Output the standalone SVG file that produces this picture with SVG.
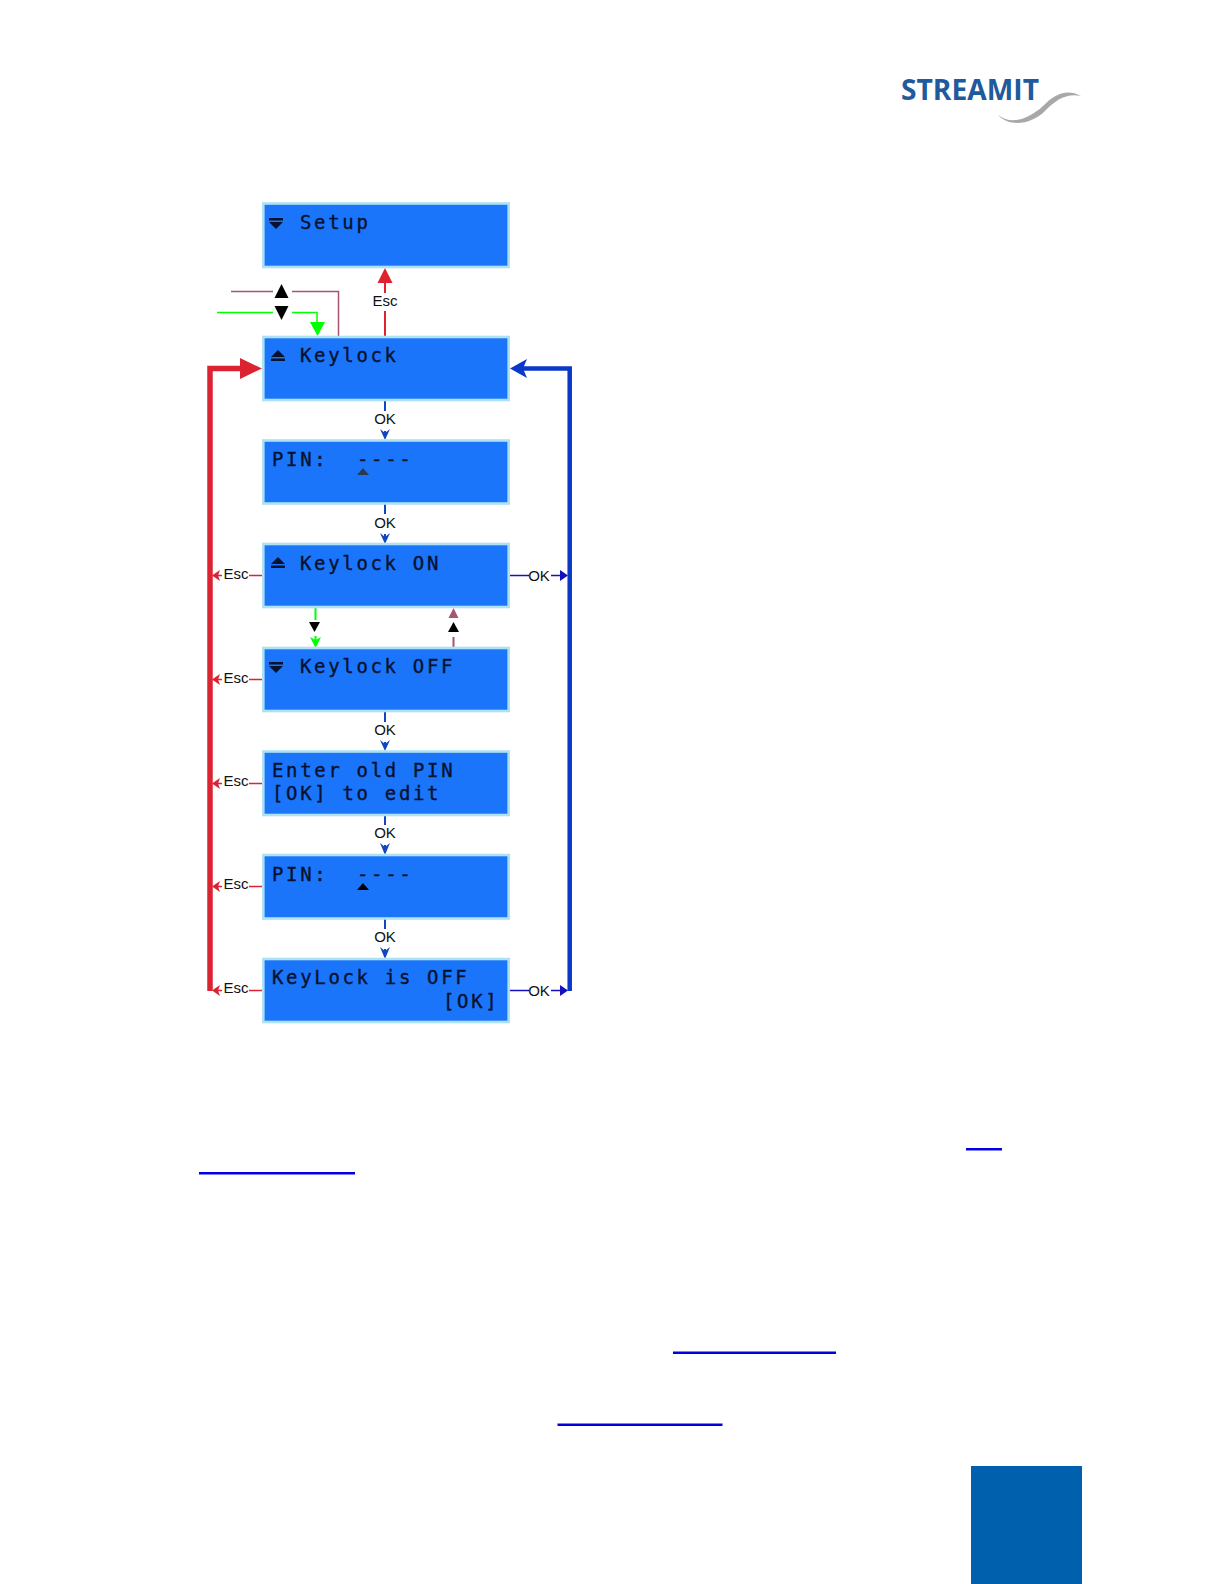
<svg xmlns="http://www.w3.org/2000/svg" width="1224" height="1584" viewBox="0 0 1224 1584">
<style>
.lcd{font-family:"DejaVu Sans Mono","Liberation Mono",monospace;font-size:19px;letter-spacing:2.66px;fill:#06122e;stroke:#06122e;stroke-width:.35px}
.lab{font-family:"Liberation Sans",Arial,sans-serif;font-size:15px;fill:#111;text-anchor:middle}
.box{fill:#1a75fb;stroke:#aee2f3;stroke-width:2.600}
.c{fill:none}
</style>
<rect width="1224" height="1584" fill="#fff"/>
<g id="logo">
<text x="901" y="100" font-family="'Open Sans','Noto Sans',sans-serif" font-weight="700" font-size="28" fill="#1f5a9c" textLength="138" lengthAdjust="spacingAndGlyphs">STREAMIT</text>
<path d="M998 115C1012 126 1030 118 1043 106C1054 95 1066 88 1081 96C1066 93 1056 100 1045 111C1032 124 1010 128 998 115Z" fill="#a8a8a8"/>
</g>
<g id="connectors">
<path class="c" d="M231 291.500H273M292 291.500H338.500V336" stroke="#a5566e" stroke-width="1.500"/>
<path class="c" d="M217 312.500H273M292 312.500H317V324" stroke="#00ff00" stroke-width="1.500"/>
<polygon points="310,322 325,322 317.500,336" fill="#00ff00"/>
<path class="c" d="M385 336V311M385 293V278" stroke="#e0212e" stroke-width="2"/>
<polygon points="385,268 377.500,283 392.500,283" fill="#e0212e"/>
<path class="c" d="M210 991V368.500H250" stroke="#dc2332" stroke-width="5.500"/>
<polygon points="262,368.500 240,358 240,379" fill="#dc2332"/>
<path class="c" d="M569.700 991V368.500H522" stroke="#0a38c8" stroke-width="4.500"/>
<polygon points="510,368.500 527,359 523,368.500 527,378" fill="#0a38c8"/>
<g stroke="#1246c0" stroke-width="2" fill="none">
<path d="M385 400V411M385 431V438M385 503V514M385 534V541M385 711V722M385 742V749M385 815V825M385 845V853M385 919V929M385 949V957"/>
</g>
<g fill="#1246c0">
<polygon points="380,429 385,433 390,429 385,440"/>
<polygon points="380,533 385,537 390,533 385,544"/>
<polygon points="380,740 385,744 390,740 385,751"/>
<polygon points="380,843 385,847 390,843 385,855"/>
<polygon points="380,947 385,951 390,947 385,959"/>
</g>
<g stroke="#dc2332" stroke-width="1.500" fill="none">
<path d="M262 575.500H249M222 575.500H216M262 679.500H249M222 679.500H216M262 783.500H249M222 783.500H216M262 886.500H249M222 886.500H216M262 990.500H249M222 990.500H216"/>
</g>
<g fill="#dc2332">
<polygon points="212,575.500 220,570 218,575.500 220,581"/>
<polygon points="212,679.500 220,674 218,679.500 220,685"/>
<polygon points="212,783.500 220,778 218,783.500 220,789"/>
<polygon points="212,886.500 220,881 218,886.500 220,892"/>
<polygon points="212,990.500 220,985 218,990.500 220,996"/>
</g>
<path class="c" d="M508 575.500H529M551 575.500H560M508 990.500H529M551 990.500H560" stroke="#1410c0" stroke-width="1.500"/>
<polygon points="568,575.500 560,570 560,581" fill="#1410c0"/>
<polygon points="568,990.500 560,985 560,996" fill="#1410c0"/>
<path class="c" d="M315.500 608V620M315.500 636V640" stroke="#00ff00" stroke-width="2"/>
<polygon points="310,637 315.500,640 321,637 315.500,648" fill="#00ff00"/>
<path class="c" d="M453.500 647V637" stroke="#a5566e" stroke-width="2"/>
<polygon points="453.500,608 448.500,618 458.500,618" fill="#a5566e"/>
<polygon points="281.500,284 288.500,298 274.500,298" fill="#000"/>
<polygon points="281.500,320 288.500,306 274.500,306" fill="#000"/>
<polygon points="314.500,632 320,622 309,622" fill="#000"/>
<polygon points="453.500,622 459,632 448,632" fill="#000"/>
</g>
<g id="labels">
<text class="lab" x="385" y="306">Esc</text>
<text class="lab" x="385" y="424">OK</text>
<text class="lab" x="385" y="528">OK</text>
<text class="lab" x="385" y="735">OK</text>
<text class="lab" x="385" y="838">OK</text>
<text class="lab" x="385" y="942">OK</text>
<text class="lab" x="236" y="579">Esc</text>
<text class="lab" x="236" y="683">Esc</text>
<text class="lab" x="236" y="786">Esc</text>
<text class="lab" x="236" y="889">Esc</text>
<text class="lab" x="236" y="993">Esc</text>
<text class="lab" x="539" y="581">OK</text>
<text class="lab" x="539" y="996">OK</text>
</g>
<g id="n-setup"><rect class="box" x="263.300" y="203.500" width="245.400" height="63.500"/><polygon points="269,218 283,218 283,220.500 269,220.500" fill="#06122e"/><polygon points="269,222 283,222 276,229" fill="#06122e"/><text class="lcd" x="300" y="229">Setup</text></g>
<g id="n-keylock"><rect class="box" x="263.300" y="337" width="245.400" height="63"/><polygon points="271,357 285,357 278,350" fill="#06122e"/><rect x="271" y="358.500" width="14" height="2.500" fill="#06122e"/><text class="lcd" x="300" y="362">Keylock</text></g>
<g id="n-pin1"><rect class="box" x="263.300" y="440.500" width="245.400" height="63"/><text class="lcd" x="272" y="466">PIN:</text><text class="lcd" x="357" y="466">----</text><polygon points="357,475 369,475 363,468" fill="#2b3a4f"/></g>
<g id="n-on"><rect class="box" x="263.300" y="544" width="245.400" height="63"/><polygon points="271,564 285,564 278,557" fill="#06122e"/><rect x="271" y="565.500" width="14" height="2.500" fill="#06122e"/><text class="lcd" x="300" y="570">Keylock ON</text></g>
<g id="n-off"><rect class="box" x="263.300" y="648" width="245.400" height="63"/><rect x="269" y="662" width="14" height="2.500" fill="#06122e"/><polygon points="269,666 283,666 276,673" fill="#06122e"/><text class="lcd" x="300" y="673">Keylock OFF</text></g>
<g id="n-enter"><rect class="box" x="263.300" y="751.500" width="245.400" height="63.500"/><text class="lcd" x="272" y="777">Enter old PIN</text><text class="lcd" x="272" y="800">[OK] to edit</text></g>
<g id="n-pin2"><rect class="box" x="263.300" y="855" width="245.400" height="63.500"/><text class="lcd" x="272" y="881">PIN:</text><text class="lcd" x="357" y="881">----</text><polygon points="357,890 369,890 363,883" fill="#000"/></g>
<g id="n-final"><rect class="box" x="263.300" y="959" width="245.400" height="63"/><text class="lcd" x="272" y="984">KeyLock is OFF</text><text class="lcd" x="443" y="1008">[OK]</text></g>
<g id="links" fill="#0000e0">
<rect x="966" y="1148" width="36" height="2.500"/>
<rect x="199" y="1172" width="156" height="2.500"/>
<rect x="673" y="1351.500" width="163" height="2.500"/>
<rect x="557.500" y="1423.500" width="165" height="2.500"/>
</g>
<rect id="corner" x="971" y="1466" width="111" height="118" fill="#0060ae"/>
</svg>
